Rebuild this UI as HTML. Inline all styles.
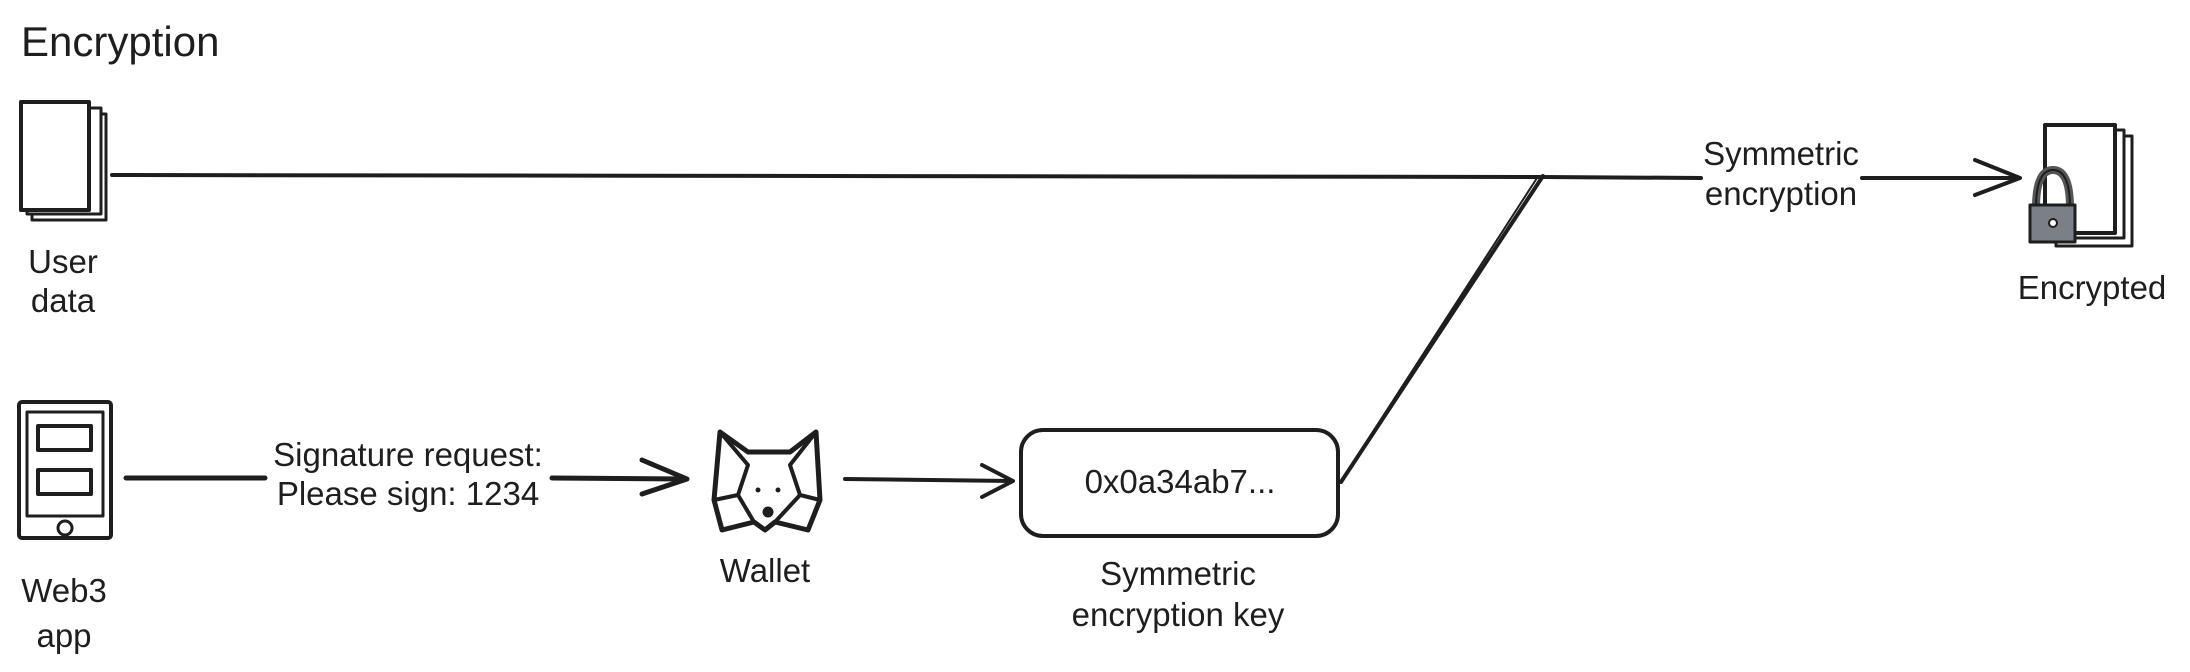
<!DOCTYPE html>
<html><head><style>
html,body{margin:0;padding:0;background:#fff;}
svg{display:block;}
text{font-family:"Liberation Sans",sans-serif;fill:#1e1e1e;}
</style></head><body>
<svg width="2190" height="672" viewBox="0 0 2190 672" xmlns="http://www.w3.org/2000/svg">
<g stroke="#1e1e1e" fill="none" stroke-linecap="round" stroke-linejoin="round">
<!-- user data docs -->
<rect x="32" y="114" width="74" height="106" fill="#fff" stroke-width="3"/>
<rect x="27" y="108" width="74" height="106" fill="#fff" stroke-width="3"/>
<rect x="21" y="102" width="68" height="108" fill="#fff" stroke-width="4"/>
<!-- top line -->
<line x1="112" y1="175" x2="1543" y2="177" stroke-width="4"/>
<line x1="1543" y1="177" x2="1701" y2="178" stroke-width="4"/>
<line x1="1862" y1="178" x2="2018" y2="178" stroke-width="4"/>
<polyline points="1975,160 2020,178 1975,195" stroke-width="4"/>
<!-- diagonal -->
<line x1="1543" y1="176" x2="1341" y2="482" stroke-width="4"/>
<line x1="1537" y1="178" x2="1343" y2="478" stroke-width="2"/>
<!-- encrypted docs -->
<rect x="2056" y="136" width="76" height="110" fill="#fff" stroke-width="3"/>
<rect x="2050" y="130" width="74" height="108" fill="#fff" stroke-width="3"/>
<rect x="2045" y="125" width="70" height="108" fill="#fff" stroke-width="4"/>
<path d="M2036,208 Q2036,170 2053,170 Q2070,170 2070,208" stroke="#555" stroke-width="8"/>
<path d="M2036,208 Q2036,170 2053,170 Q2070,170 2070,208" stroke-width="2"/>
<rect x="2030" y="205" width="45" height="37" fill="#7b8087" stroke-width="3"/>
<circle cx="2053" cy="223" r="4" fill="#fff" stroke-width="2"/>
<!-- phone -->
<rect x="19" y="402" width="92" height="136" rx="3" fill="#fff" stroke-width="4"/>
<rect x="27" y="412" width="76" height="104" stroke-width="3"/>
<rect x="38" y="426" width="53" height="24" stroke-width="4"/>
<rect x="38" y="470" width="53" height="24" stroke-width="4"/>
<circle cx="65" cy="528" r="7" stroke-width="3"/>
<!-- signature arrow -->
<line x1="126" y1="478" x2="265" y2="478" stroke-width="5"/>
<line x1="552" y1="478" x2="686" y2="479" stroke-width="5"/>
<polyline points="642,460 687,479 642,494" stroke-width="5"/>
<!-- fox -->
<path d="M720,432 L748,452 L790,452 L816,432 L820,500 L808,530 L775,522 L765,530 L754,522 L722,530 L714,500 Z" fill="#fff" stroke-width="5"/>
<path d="M720,432 L748,465 L738,495 M816,432 L790,465 L800,495 M714,500 L738,495 L754,522 M820,500 L800,495 L775,522" stroke-width="4"/>
<circle cx="768" cy="512" r="5" fill="#1e1e1e"/>
<circle cx="758" cy="490" r="2" fill="#1e1e1e"/>
<circle cx="778" cy="490" r="2" fill="#1e1e1e"/>
<!-- wallet arrow -->
<line x1="845" y1="479" x2="1012" y2="481" stroke-width="4"/>
<polyline points="982,465 1013,481 982,497" stroke-width="4"/>
<!-- key box -->
<rect x="1021" y="430" width="317" height="106" rx="22" fill="#fff" stroke-width="4"/>
</g>
<g font-size="33">
<text x="21" y="56" font-size="42">Encryption</text>
<text x="63" y="273" text-anchor="middle">User</text>
<text x="63" y="312" text-anchor="middle">data</text>
<text x="1781" y="165" text-anchor="middle">Symmetric</text>
<text x="1781" y="205" text-anchor="middle">encryption</text>
<text x="2092" y="299" text-anchor="middle">Encrypted</text>
<text x="64" y="602" text-anchor="middle">Web3</text>
<text x="64" y="647" text-anchor="middle">app</text>
<text x="408" y="466" text-anchor="middle">Signature request:</text>
<text x="408" y="505" text-anchor="middle">Please sign: 1234</text>
<text x="765" y="582" text-anchor="middle">Wallet</text>
<text x="1180" y="493" text-anchor="middle">0x0a34ab7...</text>
<text x="1178" y="585" text-anchor="middle">Symmetric</text>
<text x="1178" y="626" text-anchor="middle">encryption key</text>
</g>
</svg>
</body></html>
